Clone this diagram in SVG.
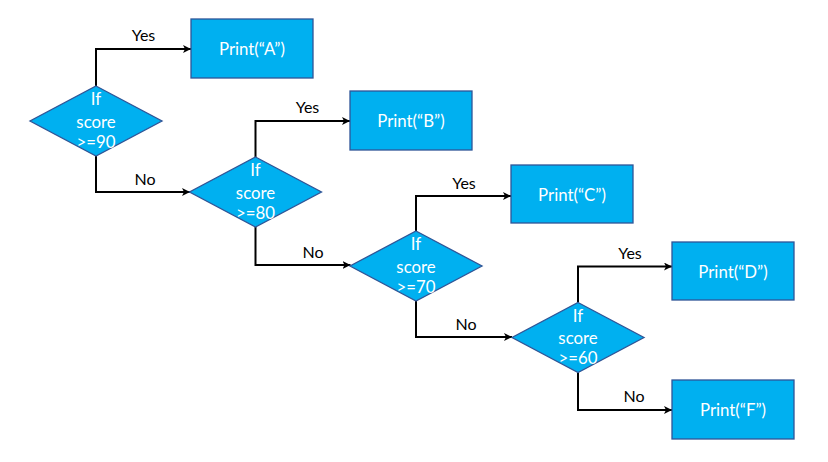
<svg xmlns="http://www.w3.org/2000/svg" width="828" height="462" viewBox="0 0 828 462">
<style>
.shape{fill:#00B0F0;stroke:#2F5597;stroke-width:1.3}
.in{font-family:Lato,"Open Sans",sans-serif;font-size:16.8px;fill:#FFFFFF;text-anchor:middle}
.lbl{font-family:Lato,"Open Sans",sans-serif;font-size:16px;fill:#000000;text-anchor:middle}
.edge{fill:none;stroke:#000000;stroke-width:2;marker-end:url(#arr)}
</style>
<defs>
<marker id="arr" viewBox="0 0 10 10" refX="10" refY="5" markerWidth="4" markerHeight="4" orient="auto" markerUnits="strokeWidth">
<path d="M0,0 L10,5 L0,10 L2.5,5 Z" fill="#000000"/>
</marker>
</defs>
<rect width="828" height="462" fill="#FFFFFF"/>
<g id="connectors">
<path class="edge" d="M96,86 V49 H191"/>
<path class="edge" d="M96,156 V192 H190"/>
<path class="edge" d="M255.5,157 V121 H350"/>
<path class="edge" d="M255.5,227 V265 H350.5"/>
<path class="edge" d="M416,231 V196 H511"/>
<path class="edge" d="M416,301 V337 H512"/>
<path class="edge" d="M578,302.5 V266.5 H672"/>
<path class="edge" d="M578,372.5 V410 H672"/>
<text class="lbl" x="143.5" y="40.5">Yes</text>
<text class="lbl" x="145" y="184.5">No</text>
<text class="lbl" x="307.5" y="112.5">Yes</text>
<text class="lbl" x="313" y="258">No</text>
<text class="lbl" x="464" y="188.5">Yes</text>
<text class="lbl" x="466" y="329.5">No</text>
<text class="lbl" x="630" y="259">Yes</text>
<text class="lbl" x="634" y="401.5">No</text>
</g>
<g id="d1">
<polygon class="shape" points="96,86 162,121 96,156 30,121"/>
<text class="in" x="96" y="105">If</text>
<text class="in" x="96" y="127.5">score</text>
<text class="in" x="96" y="147.5">&gt;=90</text>
</g>
<g id="d2">
<polygon class="shape" points="255.5,157 321.5,192 255.5,227 189.5,192"/>
<text class="in" x="255.5" y="176">If</text>
<text class="in" x="255.5" y="198.5">score</text>
<text class="in" x="255.5" y="218.5">&gt;=80</text>
</g>
<g id="d3">
<polygon class="shape" points="416,231 482,266 416,301 350,266"/>
<text class="in" x="416" y="250">If</text>
<text class="in" x="416" y="272.5">score</text>
<text class="in" x="416" y="292.5">&gt;=70</text>
</g>
<g id="d4">
<polygon class="shape" points="578,302.5 644,337.5 578,372.5 512,337.5"/>
<text class="in" x="578" y="321.5">If</text>
<text class="in" x="578" y="344">score</text>
<text class="in" x="578" y="364">&gt;=60</text>
</g>
<g id="boxA">
<rect class="shape" x="191" y="19" width="122" height="59"/>
<text class="in" x="252" y="54.5">Print(“A”)</text>
</g>
<g id="boxB">
<rect class="shape" x="350" y="91" width="122" height="59"/>
<text class="in" x="411" y="126.5">Print(“B”)</text>
</g>
<g id="boxC">
<rect class="shape" x="511" y="165" width="122" height="58"/>
<text class="in" x="572" y="200.5">Print(“C”)</text>
</g>
<g id="boxD">
<rect class="shape" x="672" y="242" width="122" height="58"/>
<text class="in" x="733" y="277.5">Print(“D”)</text>
</g>
<g id="boxF">
<rect class="shape" x="672" y="380" width="122" height="59"/>
<text class="in" x="733" y="415.5">Print(“F”)</text>
</g>
</svg>
